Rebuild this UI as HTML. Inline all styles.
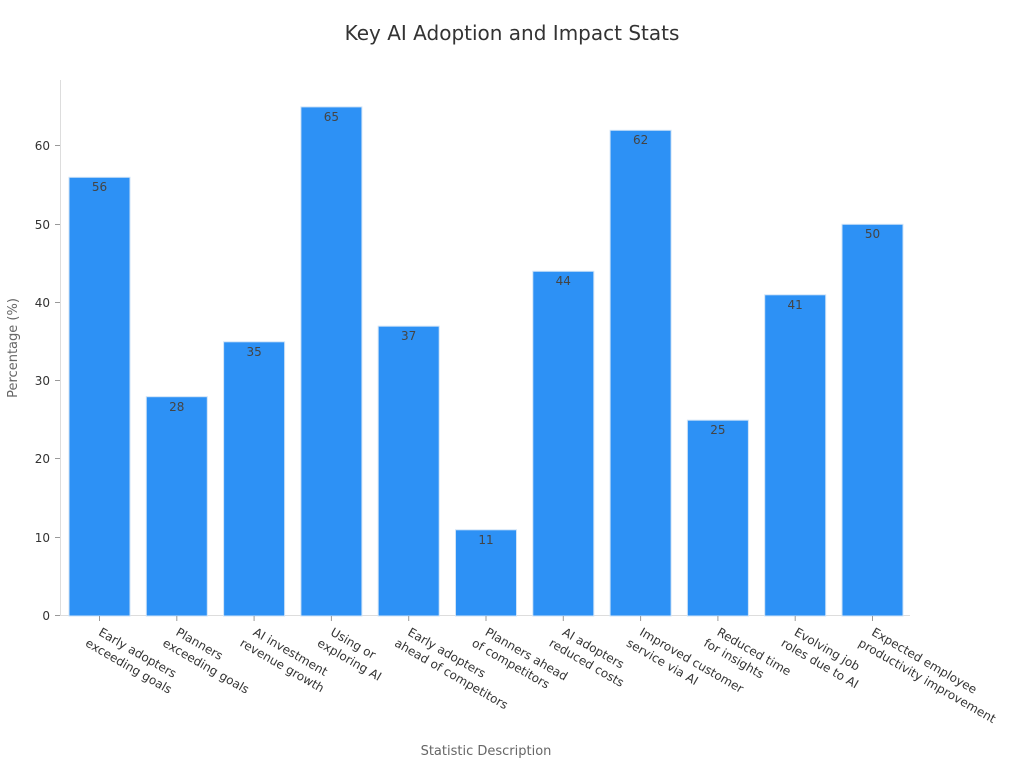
<!DOCTYPE html>
<html><head><meta charset="utf-8"><style>
html,body{margin:0;padding:0;background:#fff;}
svg{display:block;font-family:"DejaVu Sans","Liberation Sans",sans-serif;}
</style></head><body>
<svg width="1024" height="768" viewBox="0 0 1024 768" xmlns="http://www.w3.org/2000/svg">
<text x="512" y="40" text-anchor="middle" font-size="20" fill="#333">Key AI Adoption and Impact Stats</text>
<line x1="60.5" y1="80" x2="60.5" y2="616" stroke="#ddd" stroke-width="1"/>
<line x1="60" y1="615.5" x2="910" y2="615.5" stroke="#ddd" stroke-width="1"/>
<g font-size="12" fill="#333" text-anchor="end">
<text x="50" y="620">0</text><line x1="55" x2="60" y1="615.5" y2="615.5" stroke="#999"/>
<text x="50" y="542">10</text><line x1="55" x2="60" y1="537.5" y2="537.5" stroke="#999"/>
<text x="50" y="463">20</text><line x1="55" x2="60" y1="458.5" y2="458.5" stroke="#999"/>
<text x="50" y="385">30</text><line x1="55" x2="60" y1="380.5" y2="380.5" stroke="#999"/>
<text x="50" y="307">40</text><line x1="55" x2="60" y1="302.5" y2="302.5" stroke="#999"/>
<text x="50" y="229">50</text><line x1="55" x2="60" y1="224.5" y2="224.5" stroke="#999"/>
<text x="50" y="150">60</text><line x1="55" x2="60" y1="145.5" y2="145.5" stroke="#999"/>
</g>
<text transform="translate(17,348) rotate(-90)" text-anchor="middle" font-size="13" fill="#666">Percentage (%)</text>
<text x="486" y="755" text-anchor="middle" font-size="13" fill="#666">Statistic Description</text>
<g fill="#2d91f5" stroke="#cfe3f7" stroke-width="1">
<rect x="69" y="177.3" width="61" height="438.7"/>
<rect x="146.3" y="396.7" width="61" height="219.3"/>
<rect x="223.6" y="341.8" width="61" height="274.2"/>
<rect x="300.9" y="106.9" width="61" height="509.1"/>
<rect x="378.2" y="326.2" width="61" height="289.8"/>
<rect x="455.5" y="529.8" width="61" height="86.2"/>
<rect x="532.8" y="271.3" width="61" height="344.7"/>
<rect x="610.1" y="130.3" width="61" height="485.7"/>
<rect x="687.4" y="420.2" width="61" height="195.8"/>
<rect x="764.7" y="294.8" width="61" height="321.2"/>
<rect x="842" y="224.3" width="61" height="391.7"/>
</g>
<g font-size="12" fill="#444" text-anchor="middle">
<text x="99.5" y="191">56</text><text x="176.8" y="411">28</text><text x="254.1" y="356">35</text>
<text x="331.4" y="121">65</text><text x="408.7" y="340">37</text><text x="486" y="544">11</text>
<text x="563.3" y="285">44</text><text x="640.6" y="144">62</text><text x="717.9" y="434">25</text>
<text x="795.2" y="309">41</text><text x="872.5" y="238">50</text>
</g>
<g stroke="#999">
<line x1="99.5" x2="99.5" y1="616" y2="621"/><line x1="176.8" x2="176.8" y1="616" y2="621"/><line x1="254.1" x2="254.1" y1="616" y2="621"/><line x1="331.4" x2="331.4" y1="616" y2="621"/><line x1="408.7" x2="408.7" y1="616" y2="621"/><line x1="486" x2="486" y1="616" y2="621"/><line x1="563.3" x2="563.3" y1="616" y2="621"/><line x1="640.6" x2="640.6" y1="616" y2="621"/><line x1="717.9" x2="717.9" y1="616" y2="621"/><line x1="795.2" x2="795.2" y1="616" y2="621"/><line x1="872.5" x2="872.5" y1="616" y2="621"/>
</g>
<g font-size="12" fill="#333">
<g transform="translate(98,622) rotate(30)"><text x="6" y="11">Early adopters</text><text x="0" y="27">exceeding goals</text></g>
<g transform="translate(175.3,622) rotate(30)"><text x="6" y="11">Planners</text><text x="0" y="27">exceeding goals</text></g>
<g transform="translate(252.6,622) rotate(30)"><text x="6" y="11">AI investment</text><text x="0" y="27">revenue growth</text></g>
<g transform="translate(329.9,622) rotate(30)"><text x="6" y="11">Using or</text><text x="0" y="27">exploring AI</text></g>
<g transform="translate(407.2,622) rotate(30)"><text x="6" y="11">Early adopters</text><text x="0" y="27">ahead of competitors</text></g>
<g transform="translate(484.5,622) rotate(30)"><text x="6" y="11">Planners ahead</text><text x="0" y="27">of competitors</text></g>
<g transform="translate(561.8,622) rotate(30)"><text x="6" y="11">AI adopters</text><text x="0" y="27">reduced costs</text></g>
<g transform="translate(639.1,622) rotate(30)"><text x="6" y="11">Improved customer</text><text x="0" y="27">service via AI</text></g>
<g transform="translate(716.4,622) rotate(30)"><text x="6" y="11">Reduced time</text><text x="0" y="27">for insights</text></g>
<g transform="translate(793.7,622) rotate(30)"><text x="6" y="11">Evolving job</text><text x="0" y="27">roles due to AI</text></g>
<g transform="translate(871,622) rotate(30)"><text x="6" y="11">Expected employee</text><text x="0" y="27">productivity improvement</text></g>
</g>
</svg>
</body></html>
